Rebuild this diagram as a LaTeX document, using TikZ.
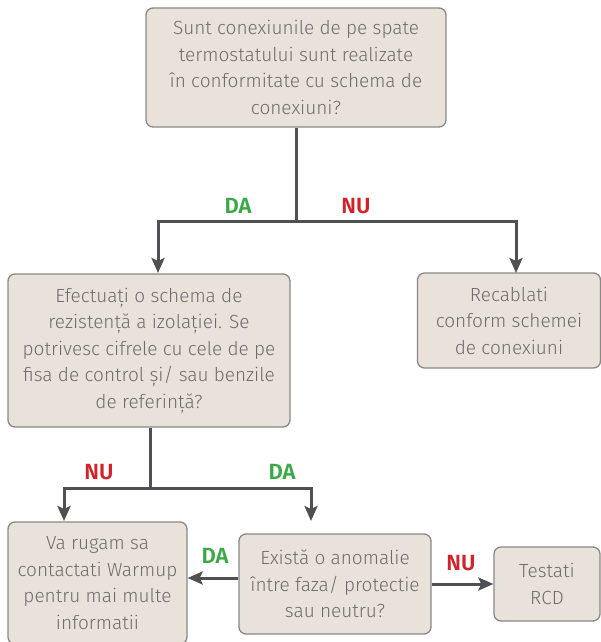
\documentclass[tikz,border=0pt]{standalone}
\usepackage{fontspec}
\setmainfont{Fira Sans}[UprightFont=* Light, BoldFont=* SemiBold]
\usetikzlibrary{arrows.meta,calc}
\definecolor{boxfill}{HTML}{E8E2DA}
\definecolor{boxline}{HTML}{8A8886}
\definecolor{txt}{HTML}{6E6C6A}
\definecolor{conn}{HTML}{4E5054}
\definecolor{dagreen}{HTML}{3AAA48}
\definecolor{nured}{HTML}{D2232A}
\begin{document}
\begin{tikzpicture}[x=1pt,y=1pt,
  box/.style={draw=boxline, line width=1.3pt, fill=boxfill, rounded corners=7pt,
    text=txt, align=center, inner sep=0pt, font=\fontsize{19}{26.5}\selectfont},
  conn/.style={draw=conn, line width=3pt},
  arr/.style={conn, -{Stealth[length=15pt,width=13pt,inset=3pt]}},
  dalbl/.style={text=dagreen, font=\fontsize{22}{24}\selectfont\bfseries},
  nulbl/.style={text=nured, font=\fontsize{22}{24}\selectfont\bfseries}]
\useasboundingbox (0,0) rectangle (601,-642);
\node[box, minimum width=300pt, minimum height=119pt] (b1) at (296,-67.5)
  {Sunt conexiunile de pe spate\\termostatului sunt realizate\\în conformitate cu schema de\\conexiuni?};
\node[box, minimum width=282pt, minimum height=153pt] (b2) at (149,-350.5)
  {Efectuați o schema de\\rezistență a izolației. Se\\potrivesc cifrele cu cele de pe\\fisa de control și/ sau benzile\\de referință?};
\node[box, minimum width=183pt, minimum height=95pt] (b3) at (509,-320.5)
  {Recablati\\conform schemei\\de conexiuni};
\node[box, minimum width=179pt, minimum height=122pt] (b4) at (97.5,-583)
  {Va rugam sa\\contactati Warmup\\pentru mai multe\\informatii};
\node[box, minimum width=192pt, minimum height=100pt] (b5) at (335,-584)
  {Există o anomalie\\între faza/ protectie\\sau neutru?};
\node[box, minimum width=106pt, minimum height=74pt] (b6) at (547,-584)
  {Testati\\RCD};
% split 1
\coordinate (j1) at (296,-221);
\coordinate (t1l) at (158,-273);
\coordinate (t1r) at (516,-273);
\draw[conn] (b1.south) -- (j1);
\draw[arr] (j1) -| (t1l);
\draw[arr] (j1) -| (t1r);
\node[dalbl] (da1) at (238,-206) {DA};
\node[nulbl] (nu1) at (356,-206) {NU};
% split 2
\coordinate (j2) at (150,-488);
\coordinate (t2l) at (64,-521);
\coordinate (t2r) at (311,-521);
\draw[conn] (b2.south -| j2) -- (j2);
\draw[arr] (j2) -| (t2l);
\draw[arr] (j2) -| (t2r);
\node[nulbl] (nu2) at (99,-472) {NU};
\node[dalbl] (da2) at (282,-472) {DA};
% side arrows
\coordinate (yda) at (0,-578);
\coordinate (ynu) at (0,-584);
\draw[arr] (b5.west |- yda) -- (b4.east |- yda);
\draw[arr] (b5.east |- ynu) -- (b6.west |- ynu);
\node[dalbl] (da3) at (215,-556) {DA};
\node[nulbl] (nu3) at (461,-563) {NU};
\end{tikzpicture}
\end{document}
